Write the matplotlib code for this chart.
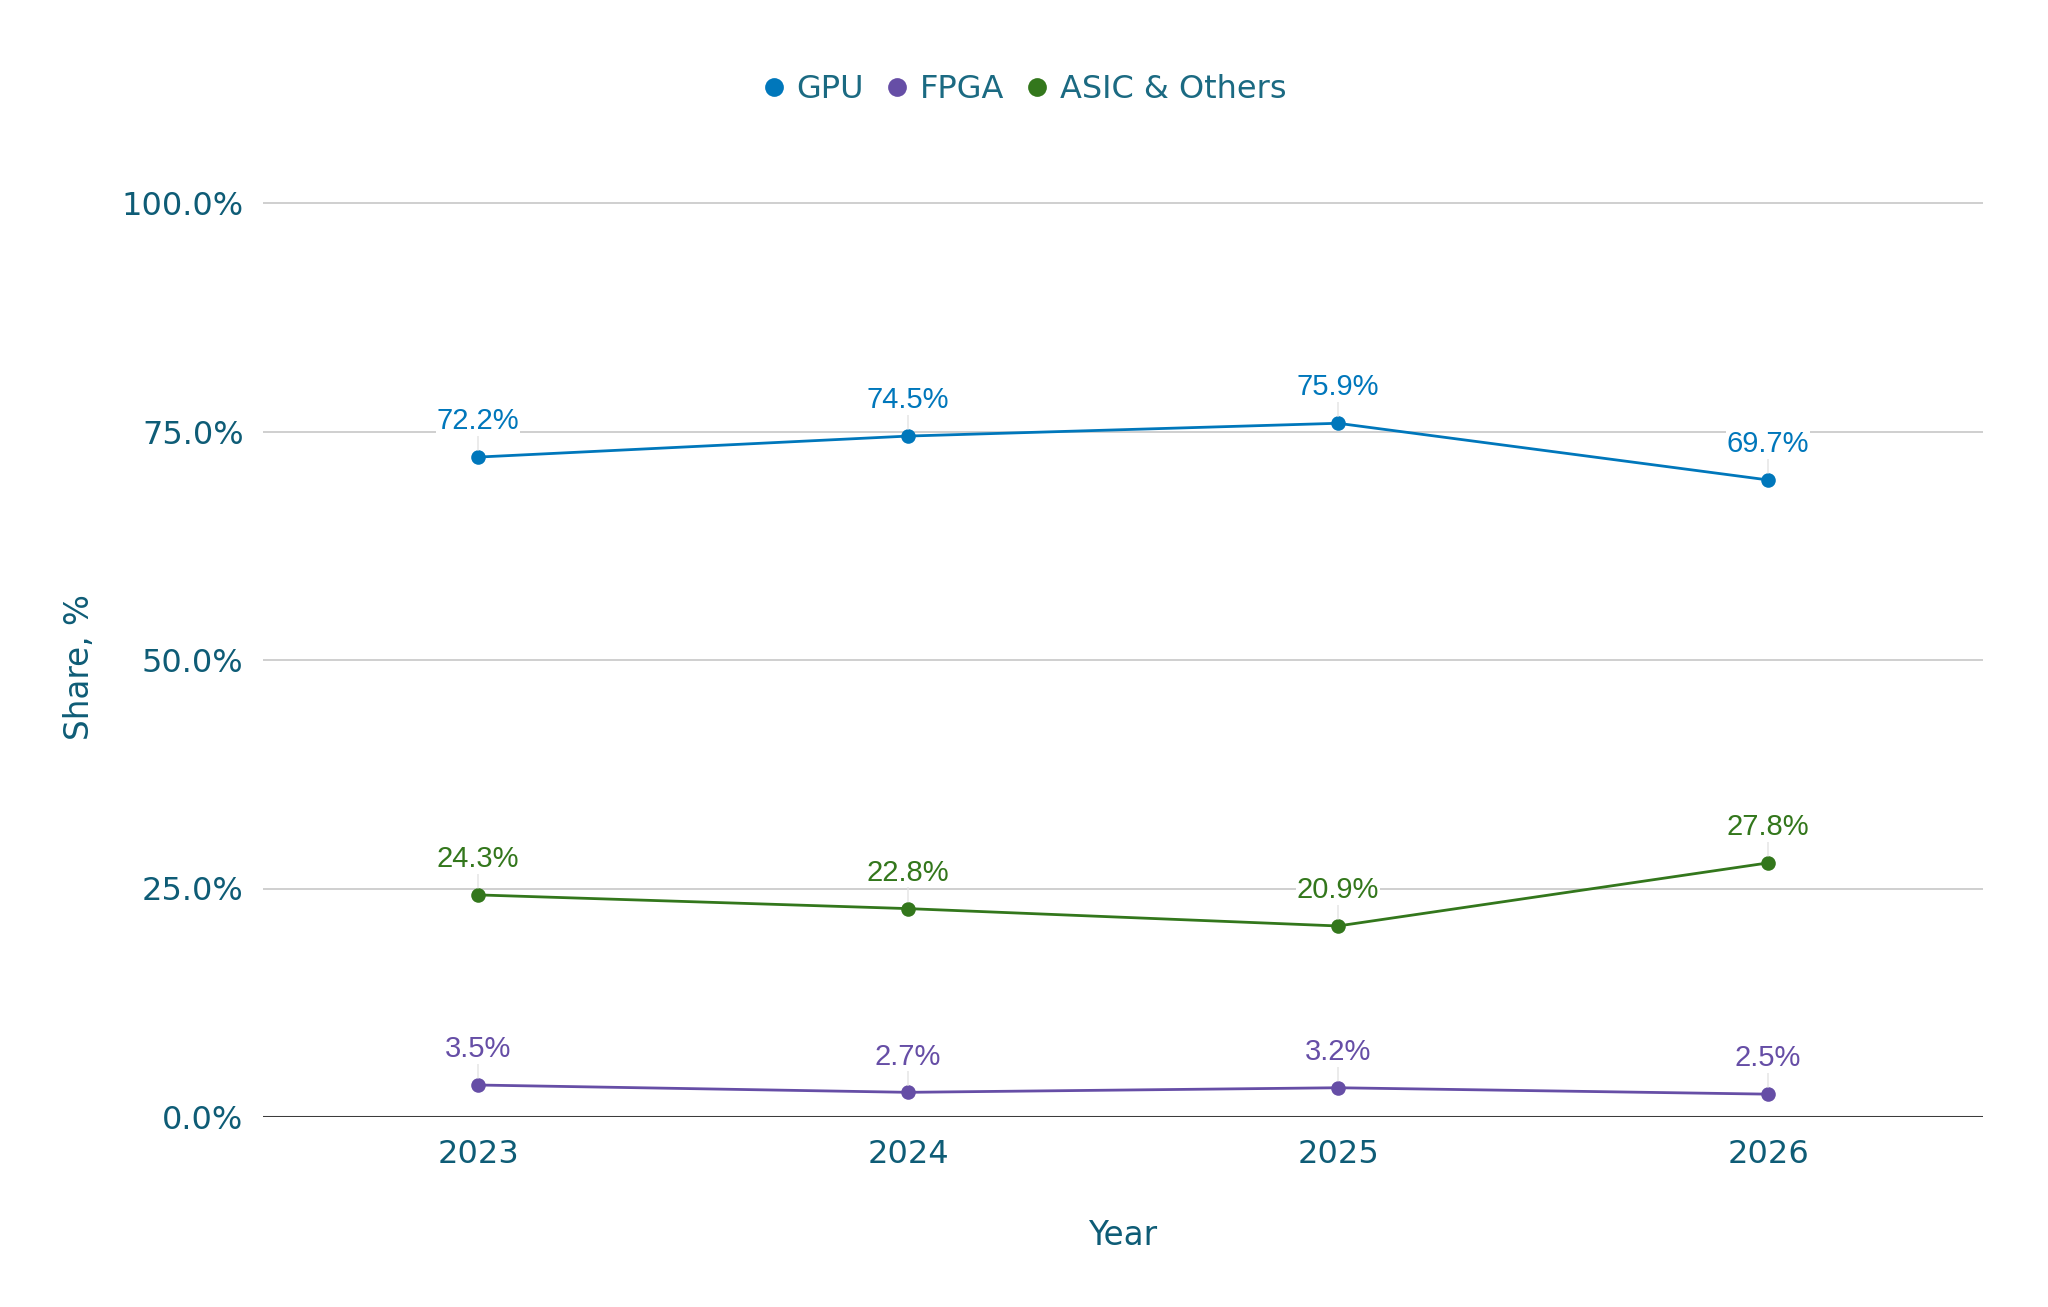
import matplotlib
matplotlib.use("Agg")
import matplotlib.pyplot as plt
from matplotlib.lines import Line2D

years = ["2023", "2024", "2025", "2026"]
gpu = [72.2, 74.5, 75.9, 69.7]
fpga = [3.5, 2.7, 3.2, 2.5]
asic = [24.3, 22.8, 20.9, 27.8]
series_names = ["GPU", "FPGA", "ASIC & Others"]
series_colors = ["#0077BB", "#664EA6", "#33771C"]
yticks = [0, 25, 50, 75, 100]

TXT = "#0e5c76"
W, H = 2048, 1307
fig = plt.figure(figsize=(W / 100, H / 100), dpi=100)

ymax = 101.0
ax_left, ax_right = 263, 1983
ax_bottom_px = 1117
ax_height_px = 914 * ymax / 100
ax = fig.add_axes([ax_left / W, (H - ax_bottom_px) / H,
                   (ax_right - ax_left) / W, ax_height_px / H])

x = list(range(len(years)))
for vals, name, col in zip([gpu, fpga, asic], series_names, series_colors):
    ax.plot(x, vals, color=col, lw=2.0, marker="o", markersize=10.5,
            markeredgewidth=0, label=name, zorder=4, solid_capstyle="round")
    for xi, v in zip(x, vals):
        ax.annotate(f"{v:.1f}%", xy=(xi, v), xytext=(0, 20),
                    textcoords="offset points", ha="center", va="baseline",
                    fontsize=21, color=col, family="Liberation Sans",
                    zorder=5,
                    bbox=dict(boxstyle="square,pad=0.02", fc="white", ec="none"),
                    arrowprops=dict(arrowstyle="-", color="#e3e3e3", lw=1.0,
                                    shrinkA=0, shrinkB=5))

ax.set_xlim(-0.5, len(years) - 0.5)
ax.set_ylim(0, ymax)
ax.set_xticks(x)
ax.set_xticklabels(years)
ax.set_yticks(yticks)
ax.set_yticklabels([f"{t:.1f}%" for t in yticks])
ax.tick_params(axis="both", length=0, labelsize=23, labelcolor=TXT)
ax.tick_params(axis="x", pad=16)
ax.tick_params(axis="y", pad=14)

for t in yticks[1:]:
    ax.axhline(t, color="#cccccc", lw=1.3, zorder=1)
ax.axhline(0, color="#3c3c3c", lw=2.2, zorder=2)

for s in ax.spines.values():
    s.set_visible(False)

ax.set_xlabel("Year", fontsize=23.5, color=TXT)
ax.xaxis.set_label_coords(0.5, -(1219 - ax_bottom_px) / ax_height_px)
ax.set_ylabel("Share, %", fontsize=23.5, color=TXT)
ax.yaxis.set_label_coords((96 - ax_left) / (ax_right - ax_left),
                          (ax_bottom_px - 667) / ax_height_px)

handles = [Line2D([], [], ls="none", marker="o", markersize=13.5,
                  markeredgewidth=0, color=c) for c in series_colors]
leg = fig.legend(handles, series_names, loc="center",
                 bbox_to_anchor=(0.5, 1 - 90 / H), ncol=3, frameon=False,
                 fontsize=23, handlelength=0.8, handletextpad=0.32,
                 columnspacing=0.63, borderpad=0)
for t in leg.get_texts():
    t.set_color("#1b6a82")

fig.savefig("out.png", dpi=100, facecolor="white")
